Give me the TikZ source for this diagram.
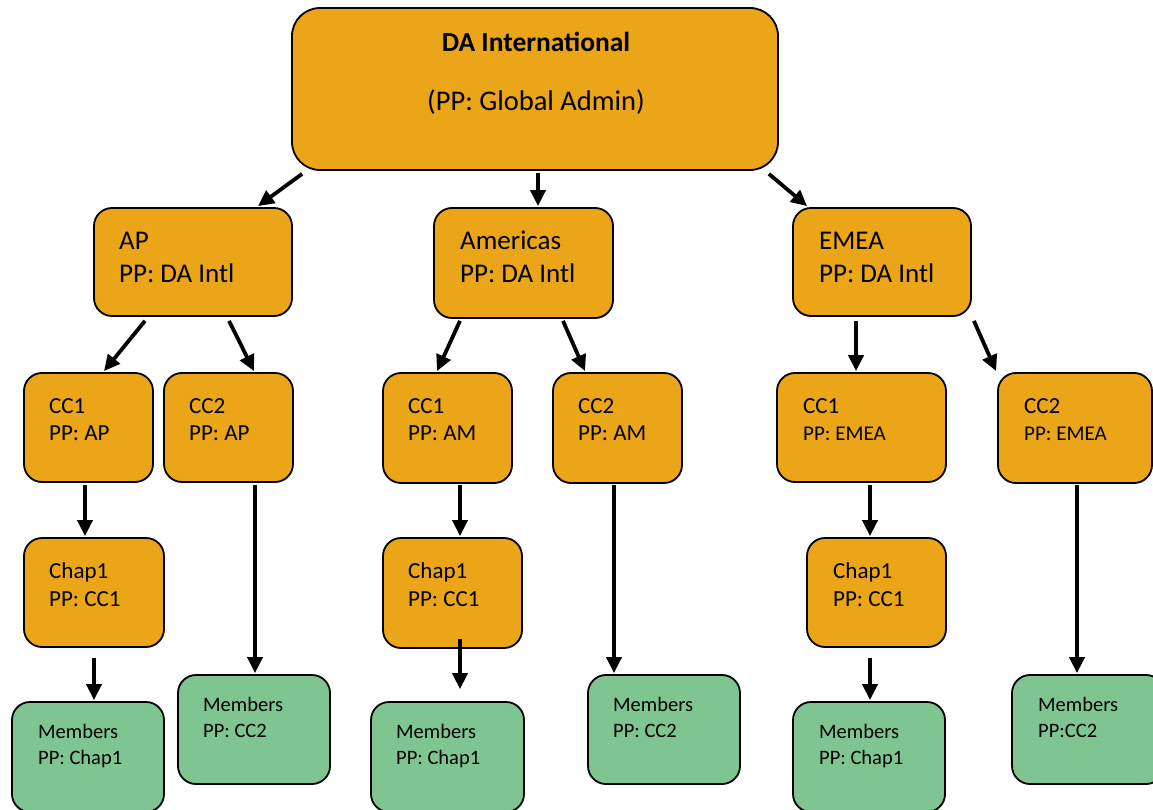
\documentclass[tikz,border=0pt]{standalone}
\usepackage{fontspec}
\setmainfont{Carlito}
\usetikzlibrary{arrows.meta}
\definecolor{orangeC}{RGB}{235,165,24}
\definecolor{greenC}{RGB}{127,197,146}
\tikzset{
  box/.style={draw=black, line width=1.8pt, rounded corners=18pt, inner sep=0pt, fill=orangeC},
  mbox/.style={box, fill=greenC},
  arr/.style={line width=3.8pt, -{Triangle[length=16pt,width=15pt]}},
  txt/.style={anchor=base west, inner sep=0pt},
  big/.style={font=\fontsize{27}{30}\selectfont},
  mid/.style={font=\fontsize{23}{26}\selectfont},
  sm/.style={font=\fontsize{20.5}{23}\selectfont},
  xs/.style={font=\fontsize{21}{23}\selectfont},
}
\begin{document}
\begin{tikzpicture}[x=1pt,y=-1pt]
\useasboundingbox (0,0) rectangle (1153,810);
% boxes
\node[box, rounded corners=28pt, minimum width=486pt, minimum height=162pt] (top) at (535,89) {};
\node[box, minimum width=198pt, minimum height=108pt] (ap) at (193,262) {};
\node[box, minimum width=179pt, minimum height=110pt] (am) at (523.5,263) {};
\node[box, minimum width=178pt, minimum height=108pt] (em) at (882,262) {};
\node[box, minimum width=129pt, minimum height=109pt] (apc1) at (88.5,427.5) {};
\node[box, minimum width=129pt, minimum height=109pt] (apc2) at (228.5,427.5) {};
\node[box, minimum width=129pt, minimum height=110pt] (amc1) at (447.5,428) {};
\node[box, minimum width=129pt, minimum height=110pt] (amc2) at (617.5,428) {};
\node[box, minimum width=169pt, minimum height=109pt] (emc1) at (861.5,427.5) {};
\node[box, minimum width=154pt, minimum height=110pt] (emc2) at (1075,428) {};
\node[box, minimum width=140pt, minimum height=109pt] (apch) at (94,592.5) {};
\node[box, minimum width=139pt, minimum height=110pt] (amch) at (452.5,593) {};
\node[box, minimum width=139pt, minimum height=109pt] (emch) at (876.5,592.5) {};
\node[mbox, minimum width=152pt, minimum height=110pt] (apm1) at (88,757) {};
\node[mbox, minimum width=152pt, minimum height=109pt] (apm2) at (254,729.5) {};
\node[mbox, minimum width=153pt, minimum height=110pt] (amm1) at (447.5,757) {};
\node[mbox, minimum width=152pt, minimum height=109pt] (amm2) at (664,729.5) {};
\node[mbox, minimum width=152pt, minimum height=110pt] (emm1) at (869,757) {};
\node[mbox, minimum width=152pt, minimum height=109pt] (emm2) at (1088,729.5) {};
% texts
\node[inner sep=0pt, anchor=base, font=\fontsize{27.5}{30}\selectfont\bfseries] (topt1) at (536,52) {DA International};
\node[inner sep=0pt, anchor=base, font=\fontsize{28.5}{30}\selectfont] (topt2) at (536,111) {(PP: Global Admin)};
\node[txt, big] (apt1) at (119,250) {AP};
\node[txt, big] (apt2) at (119,282) {PP: DA Intl};
\node[txt, big] (amt1) at (460,250) {Americas};
\node[txt, big] (amt2) at (460,282) {PP: DA Intl};
\node[txt, big] (emt1) at (819,250) {EMEA};
\node[txt, big] (emt2) at (819,282) {PP: DA Intl};
\node[txt, mid] (apc1t1) at (49,413) {CC1};
\node[txt, mid] (apc1t2) at (49,440) {PP: AP};
\node[txt, mid] (apc2t1) at (189,413) {CC2};
\node[txt, mid] (apc2t2) at (189,440) {PP: AP};
\node[txt, mid] (amc1t1) at (408,413) {CC1};
\node[txt, mid] (amc1t2) at (408,440) {PP: AM};
\node[txt, mid] (amc2t1) at (578,413) {CC2};
\node[txt, mid] (amc2t2) at (578,440) {PP: AM};
\node[txt, mid] (emc1t1) at (803,413) {CC1};
\node[txt, xs] (emc1t2) at (803,440) {PP: EMEA};
\node[txt, mid] (emc2t1) at (1024,413) {CC2};
\node[txt, xs] (emc2t2) at (1024,440) {PP: EMEA};
\node[txt, mid] (apcht1) at (49,578) {Chap1};
\node[txt, mid] (apcht2) at (49,606) {PP: CC1};
\node[txt, mid] (amcht1) at (408,578) {Chap1};
\node[txt, mid] (amcht2) at (408,606) {PP: CC1};
\node[txt, mid] (emcht1) at (833,578) {Chap1};
\node[txt, mid] (emcht2) at (833,606) {PP: CC1};
\node[txt, sm] (apm1t1) at (38,738) {Members};
\node[txt, sm] (apm1t2) at (38,764) {PP: Chap1};
\node[txt, sm] (apm2t1) at (203,711) {Members};
\node[txt, sm] (apm2t2) at (203,737) {PP: CC2};
\node[txt, sm] (amm1t1) at (396,738) {Members};
\node[txt, sm] (amm1t2) at (396,764) {PP: Chap1};
\node[txt, sm] (amm2t1) at (613,711) {Members};
\node[txt, sm] (amm2t2) at (613,737) {PP: CC2};
\node[txt, sm] (emm1t1) at (819,738) {Members};
\node[txt, sm] (emm1t2) at (819,764) {PP: Chap1};
\node[txt, sm] (emm2t1) at (1038,711) {Members};
\node[txt, sm] (emm2t2) at (1038,737) {PP:CC2};
% arrows
\draw[arr] ([shift={(11,3)}]top.south west) -- ([shift={(65,-1)}]ap.north);
\draw[arr] ([shift={(3,2)}]top.south) -- ([shift={(14.5,-1)}]am.north);
\draw[arr] ([shift={(-10,3)}]top.south east) -- ([shift={(15,-1)}]em.north west);
\draw[arr] ([shift={(-48,4)}]ap.south) -- ([shift={(15.5,-1)}]apc1.north);
\draw[arr] ([shift={(36,4)}]ap.south) -- ([shift={(25.5,-1)}]apc2.north);
\draw[arr] ([shift={(-63.5,2)}]am.south) -- ([shift={(-10.5,-1)}]amc1.north);
\draw[arr] ([shift={(39.5,2)}]am.south) -- ([shift={(-32.5,-1)}]amc2.north);
\draw[arr] ([shift={(-26,4)}]em.south) -- ([shift={(-5.5,-1)}]emc1.north);
\draw[arr] ([shift={(2,4)}]em.south east) -- ([shift={(-1,-1)}]emc2.north west);
\draw[arr] ([shift={(-3.5,2)}]apc1.south) -- ([shift={(-9,-1)}]apch.north);
\draw[arr] ([shift={(26.5,2)}]apc2.south) -- ([shift={(1,-1)}]apm2.north);
\draw[arr] ([shift={(12.5,1)}]amc1.south) -- ([shift={(7.5,-1)}]amch.north);
\draw[arr] ([shift={(-3.5,1)}]amc2.south) -- ([shift={(-50,-1)}]amm2.north);
\draw[arr] ([shift={(8.5,2)}]emc1.south) -- ([shift={(-6.5,-1)}]emch.north);
\draw[arr] ([shift={(2,1)}]emc2.south) -- ([shift={(-11,-1)}]emm2.north);
\draw[arr] ([shift={(0,10)}]apch.south) -- ([shift={(6,-1)}]apm1.north);
\draw[arr] ([shift={(7.5,-10)}]amch.south) -- ([shift={(12.5,-12)}]amm1.north);
\draw[arr] ([shift={(-6.5,10)}]emch.south) -- ([shift={(1,-1)}]emm1.north);
\end{tikzpicture}
\end{document}
